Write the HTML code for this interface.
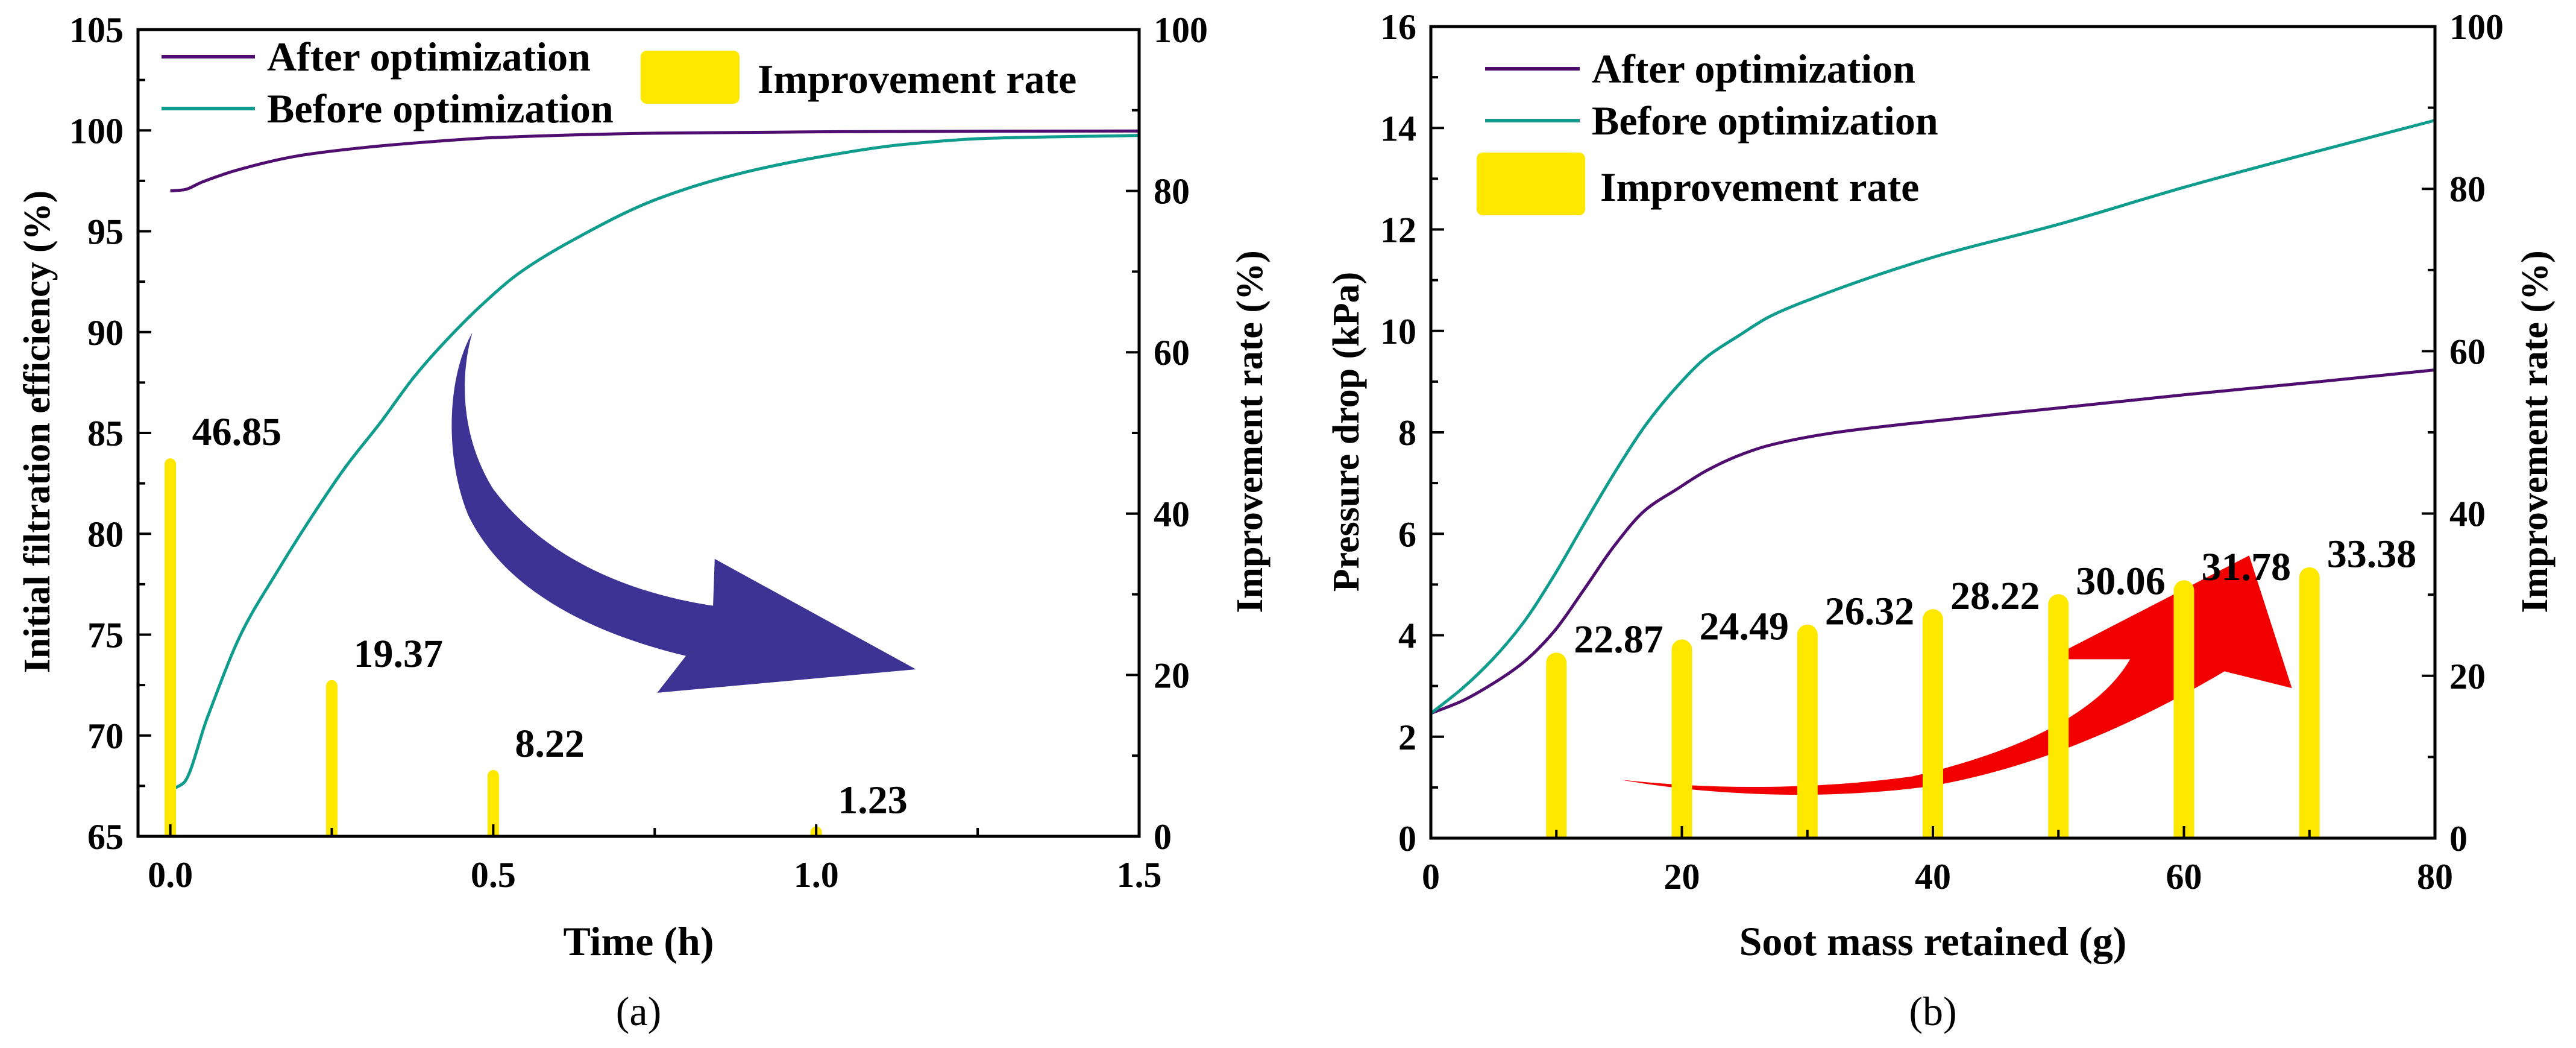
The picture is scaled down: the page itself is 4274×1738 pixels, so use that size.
<!DOCTYPE html>
<html><head><meta charset="utf-8">
<style>
html,body{margin:0;padding:0;background:#fff;}
svg{display:block;font-family:"Liberation Serif","Times New Roman",serif;}
</style></head>
<body>
<svg id="fig" width="4274" height="1738" viewBox="0 0 4274 1738" xmlns="http://www.w3.org/2000/svg">
<rect width="4274" height="1738" fill="#fff"/>
<g id="chartA"></g>
<g id="chartB"></g>
</svg>
<script>
// ---- Chart (a) data ----
const aAfterX = [0, 0.02, 0.05, 0.1, 0.2, 0.3, 0.4, 0.5, 0.75, 1.0, 1.25, 1.5];
const aAfterY = [97.0, 97.05, 97.45, 98.0, 98.75, 99.15, 99.43, 99.64, 99.86, 99.93, 99.96, 99.97];
const aBeforeX = [0, 0.02, 0.057, 0.11, 0.165, 0.218, 0.271, 0.325, 0.378, 0.432, 0.486, 0.539, 0.62, 0.754, 0.88, 1.008, 1.135, 1.26, 1.5];
const aBeforeY = [67.3, 67.63, 70.86, 75.07, 78.1, 80.8, 83.3, 85.5, 87.8, 89.75, 91.46, 92.9, 94.5, 96.6, 97.85, 98.7, 99.3, 99.6, 99.75];
const aBarX = [0, 0.25, 0.5, 1.0];
const aBarV = [46.85, 19.37, 8.22, 1.23];
const aBarLabels = ["46.85", "19.37", "8.22", "1.23"];
const aXTicks = [0, 0.5, 1.0, 1.5];
const aXTickLabels = ["0.0", "0.5", "1.0", "1.5"];
const aYTicks = [65, 70, 75, 80, 85, 90, 95, 100, 105];
const aRTicks = [0, 20, 40, 60, 80, 100];
// ---- Chart (b) data ----
const bAfterX = [0, 2.45, 4.9, 7.35, 9.8, 12.2, 14.7, 17.1, 19.6, 22, 24.5, 26.9, 31.8, 38.4, 50, 60, 70, 80];
const bAfterY = [2.46, 2.7, 3.04, 3.46, 4.07, 4.9, 5.79, 6.47, 6.88, 7.25, 7.54, 7.74, 7.98, 8.18, 8.48, 8.74, 8.98, 9.23];
const bBeforeX = [0, 2.45, 4.9, 7.35, 9.8, 12.2, 14.7, 17.1, 19.6, 22, 24.5, 26.9, 30, 40, 50, 60, 70, 80];
const bBeforeY = [2.46, 2.94, 3.52, 4.24, 5.17, 6.19, 7.23, 8.14, 8.9, 9.49, 9.9, 10.27, 10.6, 11.45, 12.1, 12.83, 13.5, 14.15];
const bBarX = [10, 20, 30, 40, 50, 60, 70];
const bBarV = [22.87, 24.49, 26.32, 28.22, 30.06, 31.78, 33.38];
const bBarLabels = ["22.87", "24.49", "26.32", "28.22", "30.06", "31.78", "33.38"];
const bXTicks = [0, 20, 40, 60, 80];
const bYTicks = [0, 2, 4, 6, 8, 10, 12, 14, 16];
const bRTicks = [0, 20, 40, 60, 80, 100];

const NS = "http://www.w3.org/2000/svg";
function mk(parent, tag, attrs, text) {
  const e = document.createElementNS(NS, tag);
  for (const k in attrs) e.setAttribute(k, attrs[k]);
  if (text !== undefined) e.textContent = text;
  parent.appendChild(e);
  return e;
}
// monotone cubic (Fritsch-Carlson) path
function smooth(pts) {
  const n = pts.length;
  const dx = [], m = [], t = [];
  for (let i = 0; i < n - 1; i++) { dx[i] = pts[i + 1][0] - pts[i][0]; m[i] = (pts[i + 1][1] - pts[i][1]) / dx[i]; }
  t[0] = m[0]; t[n - 1] = m[n - 2];
  for (let i = 1; i < n - 1; i++) {
    if (m[i - 1] * m[i] <= 0) t[i] = 0;
    else { const w1 = 2 * dx[i] + dx[i - 1], w2 = dx[i] + 2 * dx[i - 1]; t[i] = (w1 + w2) / (w1 / m[i - 1] + w2 / m[i]); }
  }
  let d = "M" + pts[0][0] + "," + pts[0][1];
  for (let i = 0; i < n - 1; i++) {
    const h = dx[i] / 3;
    d += " C" + (pts[i][0] + h) + "," + (pts[i][1] + t[i] * h) + " " + (pts[i + 1][0] - h) + "," + (pts[i + 1][1] - t[i + 1] * h) + " " + pts[i + 1][0] + "," + pts[i + 1][1];
  }
  return d;
}
const PURPLE = "#4e0d6f", TEAL = "#0e9c8c", YELLOW = "#ffe800";
const FS = 60;

function drawChart(g, cfg) {
  const {L, R, T, B, xmin, xmax, ymin, ymax} = cfg;
  const X = v => L + (v - xmin) / (xmax - xmin) * (R - L);
  const Y = v => B - (v - ymin) / (ymax - ymin) * (B - T);
  const YR = v => B - v / 100 * (B - T);

  if (cfg.arrow) {
    const a = mk(g, "path", {d: cfg.arrow, fill: cfg.arrowColor, transform: cfg.arrowTf});
    
    
  }
  const ca = mk(g, "path", {d: smooth(cfg.afterX.map((x, i) => [X(x), Y(cfg.afterY[i])])), fill: "none", stroke: PURPLE, "stroke-width": 5});
  
  
  const cb = mk(g, "path", {d: smooth(cfg.beforeX.map((x, i) => [X(x), Y(cfg.beforeY[i])])), fill: "none", stroke: TEAL, "stroke-width": 5});
  
  
  cfg.barX.forEach((x, i) => {
    const cx = X(x), top = YR(cfg.barV[i]), w = cfg.barW;
    const r = w / 2;
    const h = B - top;
    const d = h > r ? `M${cx - r},${B} L${cx - r},${top + r} A${r},${r} 0 0 1 ${cx + r},${top + r} L${cx + r},${B} Z`
                    : `M${cx - r},${B} L${cx - r},${top} L${cx + r},${top} L${cx + r},${B} Z`;
    const b = mk(g, "path", {d: d, fill: YELLOW});
    
    
    const t = mk(g, "text", {x: cx + cfg.lblDx, y: top + cfg.lblDy, "font-size": 66, "font-weight": "bold"}, cfg.barLabels[i]);
    
    
  });
  const fr = mk(g, "rect", {x: L, y: T, width: R - L, height: B - T, fill: "none", stroke: "#000", "stroke-width": 5});
  
  
  cfg.yTicks.forEach(v => {
    mk(g, "line", {x1: L, x2: L + 22, y1: Y(v), y2: Y(v), stroke: "#000", "stroke-width": 4});
    const t = mk(g, "text", {x: L - 24, y: Y(v) + 21, "font-size": FS, "font-weight": "bold", "text-anchor": "end"}, String(v));
    
    
  });
  for (let i = 0; i < cfg.yTicks.length - 1; i++) {
    const m = (cfg.yTicks[i] + cfg.yTicks[i + 1]) / 2;
    mk(g, "line", {x1: L, x2: L + 12, y1: Y(m), y2: Y(m), stroke: "#000", "stroke-width": 4});
  }
  cfg.rTicks.forEach(v => {
    mk(g, "line", {x1: R, x2: R - 22, y1: YR(v), y2: YR(v), stroke: "#000", "stroke-width": 4});
    const t = mk(g, "text", {x: R + 24, y: YR(v) + 21, "font-size": FS, "font-weight": "bold"}, String(v));
    
    
  });
  for (let i = 0; i < cfg.rTicks.length - 1; i++) {
    const m = (cfg.rTicks[i] + cfg.rTicks[i + 1]) / 2;
    mk(g, "line", {x1: R, x2: R - 12, y1: YR(m), y2: YR(m), stroke: "#000", "stroke-width": 4});
  }
  cfg.xTicks.forEach((v, i) => {
    mk(g, "line", {x1: X(v), x2: X(v), y1: B, y2: B - 20, stroke: "#000", "stroke-width": 4});
    const t = mk(g, "text", {x: X(v), y: B + 84, "font-size": FS, "font-weight": "bold", "text-anchor": "middle"}, cfg.xTickLabels[i]);
    
    
  });
  for (let i = 0; i < cfg.xTicks.length - 1; i++) {
    const m = (cfg.xTicks[i] + cfg.xTicks[i + 1]) / 2;
    mk(g, "line", {x1: X(m), x2: X(m), y1: B, y2: B - 14, stroke: "#000", "stroke-width": 4});
  }
  const xt = mk(g, "text", {x: (L + R) / 2, y: 1584, "font-size": 68, "font-weight": "bold", "text-anchor": "middle"}, cfg.xTitle);
  
  
  const yt = mk(g, "text", {x: 0, y: 0, "font-size": 62, "font-weight": "bold", "text-anchor": "middle", transform: `translate(${cfg.yTitleX},716) rotate(-90)`}, cfg.yTitle);
  
  
  const rt = mk(g, "text", {x: 0, y: 0, "font-size": 62, "font-weight": "bold", "text-anchor": "middle", transform: `translate(${cfg.rTitleX},716) rotate(-90)`}, "Improvement rate (%)");
  
  
  const cap = mk(g, "text", {x: (L + R) / 2, y: 1700, "font-size": 68, "text-anchor": "middle"}, cfg.caption);
  
  
  const lg = mk(g, "g", {});
  
  
  const Lg = cfg.legend;
  mk(lg, "line", {x1: Lg.lx1, x2: Lg.lx2, y1: Lg.y1, y2: Lg.y1, stroke: PURPLE, "stroke-width": 6});
  const l1 = mk(lg, "text", {x: Lg.tx, y: Lg.y1 + 23, "font-size": 68, "font-weight": "bold"}, "After optimization");
  
  
  mk(lg, "line", {x1: Lg.lx1, x2: Lg.lx2, y1: Lg.y2, y2: Lg.y2, stroke: TEAL, "stroke-width": 6});
  const l2 = mk(lg, "text", {x: Lg.tx, y: Lg.y2 + 23, "font-size": 68, "font-weight": "bold"}, "Before optimization");
  
  
  mk(lg, "rect", {x: Lg.bx, y: Lg.by, width: Lg.bw, height: Lg.bh, rx: 10, fill: YELLOW});
  const l3 = mk(lg, "text", {x: Lg.btx, y: Lg.bty, "font-size": 68, "font-weight": "bold"}, "Improvement rate");
  
  
}

drawChart(document.getElementById("chartA"), {
  L: 229, R: 1890, T: 49, B: 1387, xmin: -0.05, xmax: 1.5, ymin: 65, ymax: 105,
  afterX: aAfterX, afterY: aAfterY, beforeX: aBeforeX, beforeY: aBeforeY,
  barX: aBarX, barV: aBarV, barLabels: aBarLabels, barW: 19, lblDx: 36, lblDy: -22,
  xTicks: aXTicks, xTickLabels: aXTickLabels, yTicks: aYTicks, rTicks: aRTicks,
  xTitle: "Time (h)", yTitle: "Initial filtration efficiency (%)", yTitleX: 82, rTitleX: 2094, caption: "(a)",
  legend: {lx1: 268, lx2: 423, y1: 94, y2: 180, tx: 443, bx: 1063, by: 84, bw: 164, bh: 88, btx: 1257, bty: 154},
  arrow: "M575,497 C545,560 540,680 570,770 C610,870 700,940 835,980 L800,1035 L1115,1000 L870,835 L868,905 C760,885 660,830 600,730 C560,650 560,560 575,497 Z",
  arrowColor: "#3d3394", arrowTf: "scale(1.363,1.11)", arrowName: "decreasing-trend-arrow"
});
drawChart(document.getElementById("chartB"), {
  L: 2374, R: 4040, T: 44, B: 1390, xmin: 0, xmax: 80, ymin: 0, ymax: 16,
  afterX: bAfterX, afterY: bAfterY, beforeX: bBeforeX, beforeY: bBeforeY,
  barX: bBarX, barV: bBarV, barLabels: bBarLabels, barW: 34, lblDx: 29, lblDy: 0,
  xTicks: bXTicks, xTickLabels: bXTicks.map(String), yTicks: bYTicks, rTicks: bRTicks,
  xTitle: "Soot mass retained (g)", yTitle: "Pressure drop (kPa)", yTitleX: 2254, rTitleX: 4226, caption: "(b)",
  legend: {lx1: 2464, lx2: 2621, y1: 114, y2: 200, tx: 2641, bx: 2450, by: 253, bw: 180, bh: 104, btx: 2655, bty: 333},
  arrow: "M405,1165 C520,1190 660,1195 780,1175 C900,1150 1020,1090 1140,1003 L1222,1028 L1170,830 L925,985 L1025,985 C990,1060 900,1120 760,1160 C640,1180 520,1180 405,1165 Z",
  arrowColor: "#f20000", arrowTf: "translate(2137,0) scale(1.363,1.11)", arrowName: "increasing-trend-arrow"
});
</script>
</body></html>
